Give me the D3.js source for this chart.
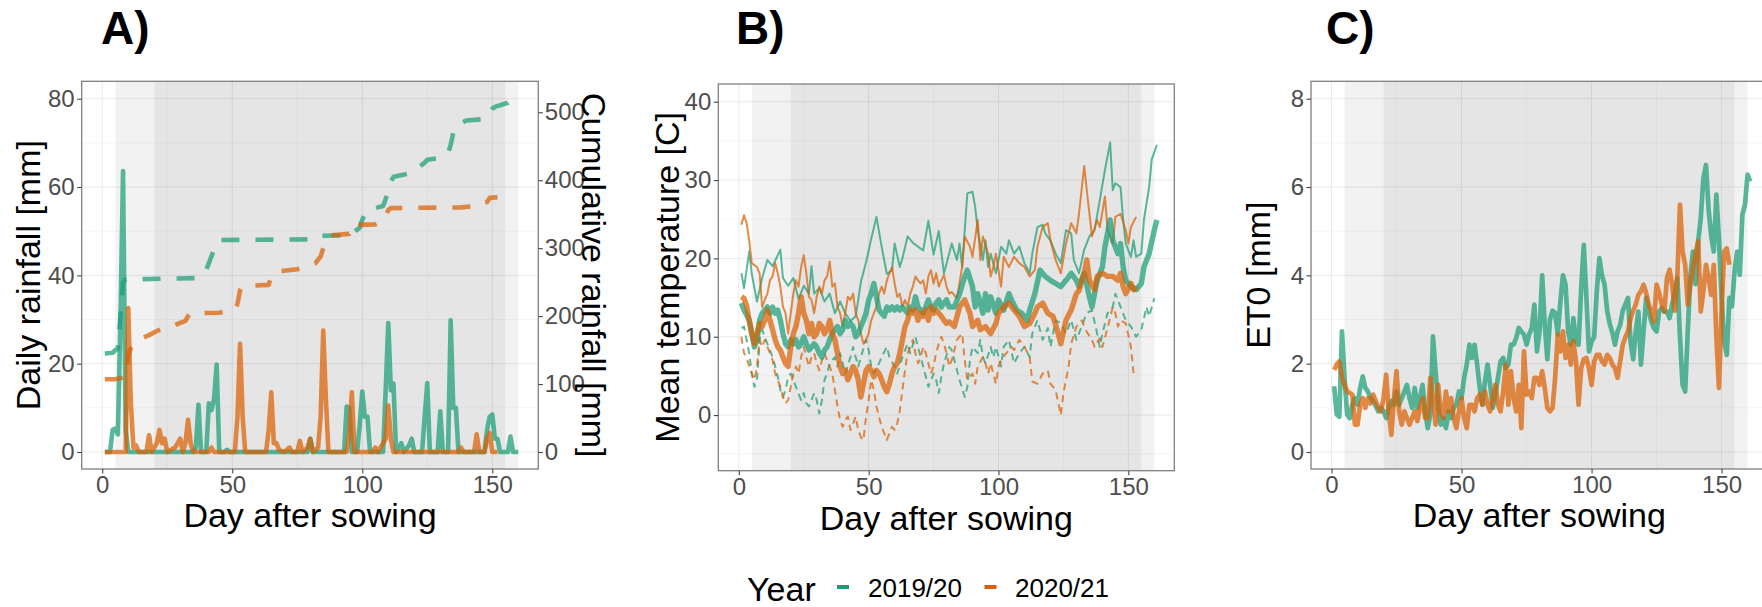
<!DOCTYPE html>
<html>
<head>
<meta charset="utf-8">
<script src="https://cdn.jsdelivr.net/npm/d3@7"></script>
<style>
  body { margin: 0; background: #fff; overflow: hidden; }
  text { font-family: "Liberation Sans", Arial, sans-serif; }
</style>
</head>
<body>
<div id="chart"></div>
<script>
// ---- data: [day after sowing, value] ----
const years = ["2019/20", "2020/21"];
const yearColors = ["#1B9E77", "#D95F02"];

// growth-stage shading (day ranges)
const stageBands = [[5, 160], [20, 155]];

// tick labels
const dayTicks = [0, 50, 100, 150];
const rainTicks = [0, 20, 40, 60, 80];
const cumTicks = [0, 100, 200, 300, 400, 500];
const tempTicks = [0, 10, 20, 30, 40];
const etoTicks = [0, 2, 4, 6, 8];

// A) daily rainfall [mm]
const rain1920 = [[1,0],[3,0],[4,5],[5,5.3],[6,4],[7,30],[8,63.6],[9,5],[10,0],[35,0],[36,1],[37,10.7],[38,0],[40,0],
  [41,11],[42,9.5],[43,12],[44,19.8],[45,0],[47,0],[48,0.5],[49,0],[79,0],[80,3],[81,0],[93,0],[94,10.3],[95,10],[96,0],
  [98,0],[99,6],[100,13.7],[101,8],[102,8],[103,0],[108,0],[109,14],[110,29.2],[111,14],[112,15.5],[113,0],[115,2],[116,0],
  [118,1.5],[119,3],[120,0],[123,0],[124,8],[125,15.6],[126,0],[129,0],[130,9.2],[131,0],[133,0],[134,29.8],[135,10],
  [136,10],[137,0],[147,0],[148,5],[149,8],[150,8.5],[151,3],[152,3],[153,0],[156,0],[157,3.5],[158,0],[160,0]];
const rain2021 = [[1,0],[9,0],[10,32.6],[11,11],[12,1],[13,1.5],[14,0],[17,0],[18,3.8],[19,0],[21,2],[22,5],[23,2],[24,3],
  [25,0],[28,1],[30,3],[31,0],[32,2],[33,7.3],[34,2],[35,0],[41,0],[42,1],[43,0],[51,0],[52,8],[53,24.5],[54,8],[55,0],
  [63,0],[64,5],[65,13.5],[66,2],[67,2],[68,0.5],[70,0],[72,1],[73,0],[75,0],[76,2.5],[77,0],[79,1],[80,3],[81,0],[83,1],
  [84,8],[85,27.5],[86,12],[87,0],[94,0],[95,4],[96,13.5],[97,0],[104,0],[105,1],[106,0],[108,2],[109,3],[110,10.5],
  [111,3],[112,0],[137,0],[138,1],[139,0],[143,0],[144,4],[145,0],[147,0],[148,3],[149,4.3],[150,0],[152,0]];

// A) cumulative rainfall [mm]
const cum1920 = [[1,145],[4,146],[5,150],[6,152],[7,200],[8,250],[9,254],[36,256],[37,262],[40,268],[41,278],[42,288],
  [43,298],[44,308],[45,312],[80,313],[81,316],[82,318],[95,319],[99,330],[100,342],[101,350],[102,356],[108,362],
  [109,372],[110,386],[111,398],[112,405],[118,410],[119,411],[124,426],[125,430],[130,433],[133,440],[134,452],
  [135,470],[136,480],[140,488],[147,490],[149,498],[150,505],[151,508],[156,514],[157,518]];
const cum2021 = [[1,107],[5,107],[9,110],[10,142],[11,153],[12,158],[14,165],[18,172],[21,178],[24,183],[28,187],
  [30,190],[32,193],[33,200],[34,204],[45,205],[51,210],[52,218],[53,238],[54,244],[64,246],[65,258],[66,262],[68,266],
  [75,269],[80,275],[82,278],[84,288],[85,300],[86,312],[88,319],[95,321],[96,334],[105,335],[108,340],[110,356],
  [111,359],[138,360],[143,362],[144,366],[148,368],[149,374],[152,375]];

// B) temperature [C]
const maxT1920 = [[1,18.1],[2,16.2],[4,20.9],[5,18],[7,14.5],[9,17.5],[11,19.8],[13,19],[16,21.1],[17,17.5],[19,16.5],
  [21,17.5],[23,14.8],[25,16.5],[27,15.5],[28,19],[29,15.5],[31,16.2],[33,14.5],[35,15.5],[37,13],[39,14.5],[41,13],
  [43,12],[45,12.6],[46,14.7],[47,17],[49,19.5],[51,22.5],[53,25.3],[55,21.5],[57,18],[59,18.5],[60,21.9],[62,18.9],
  [63,20],[65,22.8],[67,22],[69,21.5],[71,21],[73,24.8],[75,20.5],[77,23.5],[79,18.1],[81,20.6],[82,21.9],[84,19.8],
  [85,21.9],[86,18.9],[88,28.3],[90,28.5],[91,26.6],[92,23.6],[94,19.8],[95,22.3],[96,18.9],[97,20.6],[99,18.1],
  [101,21.5],[103,20.6],[104,22.3],[106,20.6],[108,21.5],[110,19.4],[112,18.1],[113,20.6],[115,24],[117,24.3],
  [118,23.2],[120,22.3],[122,20.6],[124,19.4],[126,23.6],[128,23.2],[129,19.8],[131,18.1],[133,21.1],[135,22.8],
  [137,23.6],[139,27.4],[141,31.3],[143,34.8],[144,28.7],[145,29.6],[147,29.1],[148,24.9],[149,21.9],[151,20.2],
  [152,22.3],[153,20.2],[155,20.6],[156,24.9],[158,29.1],[159,32.6],[161,34.5]];
const meanT1920 = [[1,14.3],[2,13.4],[3,12.8],[4,12.1],[5,10.4],[6,8.7],[7,9.6],[8,12.1],[9,13],[10,13.4],[11,13.8],
  [12,13],[13,13.8],[14,13],[15,13.4],[16,12.1],[17,10.4],[18,9.1],[19,8.7],[20,9.6],[21,9.1],[22,9.6],[23,8.7],[24,9.1],
  [25,10],[26,9.1],[27,8.3],[28,8.7],[29,9.1],[30,8.7],[31,7.9],[32,7.4],[33,8.3],[34,8.7],[35,9.6],[36,10.4],[37,10.9],
  [38,11.3],[39,10.4],[40,10.9],[41,12.1],[42,11.3],[43,11.7],[44,11.3],[45,10],[46,10.4],[47,11.3],[48,12.1],[49,13],
  [50,14.7],[51,15.5],[52,16.8],[53,15.1],[54,13.4],[55,13],[56,12.6],[57,13.8],[58,13.4],[59,13.8],[60,13.4],[61,13.8],
  [62,13.4],[63,13.8],[64,13.4],[65,13],[66,13.8],[67,13.4],[68,15.1],[69,13.8],[70,13.4],[71,13],[72,13.8],[73,14.7],
  [74,13.8],[75,13.4],[76,14.3],[77,14.7],[78,13.8],[79,14.3],[80,14.7],[81,13.8],[83,13.8],[85,15.5],[87,17.7],
  [88,18.5],[90,16.4],[91,13.8],[92,15.5],[94,13],[95,15.5],[96,13.4],[97,15.1],[99,13],[100,14.7],[102,13.4],
  [104,15.5],[105,14.7],[107,13.4],[109,13],[111,12.1],[112,13.4],[114,15.5],[116,18.5],[118,17.7],[120,17.2],
  [122,16.8],[124,16.4],[126,17.2],[128,18.1],[130,17.2],[131,16.4],[133,18.1],[135,15.1],[136,13.8],[138,17.2],
  [140,18.9],[141,21.5],[143,24.9],[144,22.3],[146,20.6],[147,21.9],[148,18.9],[149,17.2],[151,16.4],[153,16],
  [155,16.8],[156,18.9],[158,20.6],[160,23.6],[161,24.9]];
const minT1920 = [[1,11.1],[2,11.3],[3,9.6],[4,7.9],[5,5.3],[6,3.6],[7,4.5],[8,9.6],[9,10.9],[11,9.1],[13,7.4],[14,6.2],
  [15,4.9],[16,3.2],[17,2.3],[18,3.2],[19,4.9],[20,5.3],[22,3.6],[24,1.9],[25,2.8],[26,1.5],[27,1.1],[28,1.9],[29,2.8],
  [30,1.9],[31,0.2],[32,1.9],[33,4.5],[34,5.3],[35,6.6],[37,7.4],[38,6.2],[39,7.9],[41,5.3],[43,7.4],[44,8.7],[45,7.4],
  [46,6.2],[47,7.4],[49,9.6],[50,8.3],[51,6.2],[52,5.3],[54,6.6],[55,7.4],[57,8.7],[58,7.4],[60,6.2],[61,5.3],[63,7.4],
  [65,9.1],[66,7.9],[68,10],[70,7.4],[71,6.2],[72,4.9],[73,3.6],[75,5.3],[76,4.5],[77,2.8],[78,4.9],[79,6.6],[81,8.7],
  [82,8.3],[83,7],[85,4.5],[87,2.3],[88,3.6],[89,7],[90,8.7],[92,7.9],[93,9.6],[94,7.4],[95,6.6],[97,8.7],[98,7.4],
  [99,8.7],[101,6.2],[102,8.7],[104,9.6],[106,6.6],[108,7.9],[110,8.7],[112,7.4],[113,10.4],[115,12.1],[117,9.6],
  [119,11.1],[120,8.7],[122,12.1],[124,11.7],[126,10.4],[128,12.1],[130,9.6],[132,11.3],[134,13],[136,13.4],
  [138,10.4],[139,8.7],[140,10.4],[142,13],[144,13.8],[145,15.5],[147,13.8],[149,12.1],[151,11.3],[153,10],
  [155,10.9],[157,13.8],[158,12.6],[160,14.9]];
const maxT2021 = [[1,24.3],[2,25.5],[3,24.5],[4,22.3],[5,19.4],[7,18.9],[8,18.1],[9,13.8],[10,14.7],[11,15.5],[12,17.2],
  [13,17.7],[14,19.4],[15,18.1],[16,16.4],[17,13.8],[18,13],[19,10.4],[20,13],[21,15.5],[22,17.2],[23,16.4],[24,18.9],
  [25,20.4],[26,18.1],[27,15.1],[28,14.7],[29,13],[30,15.1],[31,16.4],[32,15.5],[33,17.2],[34,17.7],[35,19.6],
  [36,16.4],[37,16.8],[38,13.8],[39,13],[40,11.3],[41,13],[42,15.1],[43,14.7],[44,15.5],[45,13],[46,12.1],[47,10.4],
  [48,9.1],[49,9.6],[50,10.4],[51,12.1],[52,13],[53,13.8],[54,15.5],[55,16.4],[56,15.5],[57,17.2],[58,18.1],[59,18.9],
  [60,16.8],[61,15.1],[62,15.5],[63,13.8],[64,14.7],[65,13.8],[66,15.5],[67,16.4],[68,17.7],[69,17.2],[70,16.8],
  [71,17.2],[72,15.5],[73,17.7],[74,18.5],[75,16.8],[76,18.1],[77,16.4],[78,17.2],[79,17.9],[80,16.4],[81,15.5],
  [82,15.7],[84,14.9],[86,18.9],[87,22.8],[89,21.5],[90,20.2],[92,24.9],[93,19.8],[94,22.8],[96,20.6],[97,17.7],
  [98,18.9],[99,20.6],[101,16.4],[102,20.2],[104,18.9],[106,20.2],[108,19.4],[110,18.9],[112,17.7],[114,18.5],
  [115,21.5],[117,24],[119,24.5],[120,22.3],[122,19.8],[124,18.1],[126,21.9],[128,24.5],[130,23.2],[131,25.7],
  [133,31.8],[134,28.7],[136,22.8],[138,24.9],[139,24],[141,27.9],[142,23.6],[144,21.9],[145,25.3],[147,25.7],
  [149,23.6],[150,21.9],[151,24],[153,25.3]];
const meanT2021 = [[1,15.1],[2,14.9],[3,14],[4,12.1],[5,10.4],[6,9.1],[7,10.4],[8,11.7],[9,11.3],[10,12.1],[11,13.4],
  [12,12.1],[13,10.9],[14,9.6],[15,8.7],[16,8.3],[17,7.4],[18,6.6],[19,6.2],[20,8.7],[21,10.4],[22,11.3],[23,13],
  [24,15.1],[25,13],[26,12.1],[27,10.4],[28,11.7],[29,10],[30,10.4],[31,11.7],[32,11.3],[33,10.4],[34,10.9],[35,12.1],
  [36,10.4],[37,9.6],[38,7.9],[39,6.2],[40,5.3],[41,5.7],[42,4.5],[43,5.3],[44,6.2],[45,5.7],[46,4.5],[47,2.3],[48,4],
  [49,5.7],[50,6.2],[51,5.7],[52,4.9],[53,5.7],[54,5.3],[55,4.5],[56,3.6],[57,3],[58,4],[59,5.3],[60,6.2],[61,6.6],
  [62,7.9],[63,9.6],[64,11.3],[65,12.1],[66,13.4],[67,13],[68,13.4],[69,12.1],[70,13],[71,12.6],[72,13.4],[73,12.1],
  [74,13.8],[75,13],[76,13.4],[77,13],[78,12.6],[79,12.1],[80,11.7],[81,11.9],[83,11.3],[85,13.8],[87,14.7],[89,13],
  [90,11.3],[92,12.1],[93,10.9],[95,11.3],[97,10.4],[99,11.7],[100,13],[102,13.8],[104,14.3],[106,13.4],[108,12.6],
  [110,11.3],[112,11.7],[114,13],[115,13.8],[117,14.3],[119,13],[121,12.6],[123,10.4],[124,9.1],[126,12.1],[128,13.4],
  [130,15.5],[131,15.9],[133,18.1],[134,19.8],[135,17.2],[137,16],[138,17.7],[140,18.1],[142,17.7],[144,17.7],
  [146,17.2],[147,18.1],[148,16.4],[149,15.5],[151,16.8],[152,16],[153,16.4]];
const minT2021 = [[1,10],[2,7.9],[3,7.4],[4,6.2],[5,5.3],[6,4.5],[7,6.2],[8,9.6],[9,8.7],[10,9.6],[11,8.7],[12,7.9],
  [13,7],[14,5.3],[15,4.5],[16,3.6],[17,2.3],[18,1.5],[19,1.9],[20,3.6],[21,5.3],[22,6.2],[23,5.3],[24,7.4],[25,8.7],
  [26,7.4],[27,6.2],[28,7.4],[29,7.9],[30,6.6],[31,5.7],[32,7],[33,7.9],[34,7],[35,6.2],[36,5.3],[37,3.2],[38,1.1],
  [39,-0.6],[40,-1.5],[41,-0.6],[42,-0.2],[43,-1.9],[44,-1.1],[45,-0.2],[46,-1.9],[47,-2.8],[48,-3.2],[49,-0.2],
  [50,1.9],[51,4.5],[52,3.2],[53,1.1],[54,-0.2],[55,-1.5],[56,-2.3],[57,-3.2],[58,-2.3],[59,-1.5],[60,-1.9],[61,-1.1],
  [62,0.6],[63,3.2],[64,5.7],[65,7.9],[66,8.7],[67,9.6],[68,7.9],[69,6.6],[70,7.4],[71,8.7],[72,7.9],[73,6.6],[74,5.3],
  [75,6.2],[76,7.9],[77,9.1],[78,10],[79,9.1],[80,7.9],[81,6.2],[82,7],[84,9.6],[86,10.4],[87,7],[88,4.5],[90,5.3],
  [91,4],[92,6.2],[94,7.4],[95,6.6],[96,5.3],[97,6.6],[99,4],[100,6.2],[101,7],[103,7.9],[105,8.7],[106,8.3],[108,9.6],
  [110,8.7],[112,7.4],[113,4.3],[115,4],[117,5.3],[119,5.7],[120,4],[122,3.2],[124,0],[125,2.8],[126,4.5],[127,6.2],
  [128,9.1],[130,11.3],[132,12.1],[134,10.6],[136,9.6],[137,8.7],[139,9.8],[140,8.7],[142,11.1],[144,13.8],[145,13],
  [146,11.3],[147,12.1],[149,11.7],[151,8.7],[152,5.3]];

// C) reference evapotranspiration ET0 [mm]
const et1920 = [[1,1.49],[2,0.85],[3,0.8],[4,2.73],[5,1.68],[6,0.85],[7,0.77],[8,1.07],[9,1.22],[10,1.07],[11,1.45],
  [12,1.71],[13,1.45],[14,1.37],[15,1.22],[16,1.15],[17,1.04],[18,0.92],[19,1],[20,0.92],[21,0.77],[22,1],[23,1.15],
  [24,1.07],[25,1.37],[26,1.07],[27,1.22],[28,1.37],[29,1.52],[30,1.22],[31,1],[32,1.45],[33,1],[34,1.22],[35,1.52],
  [36,0.92],[37,0.54],[38,0.85],[39,2.62],[40,1.83],[41,1.07],[42,0.62],[43,0.77],[44,0.54],[45,0.92],[46,0.77],[47,1],
  [48,1.07],[49,1.37],[50,1.22],[51,1.68],[52,1.98],[53,2.43],[54,2.13],[55,2.43],[56,1.98],[57,1.45],[58,1.07],
  [59,1.6],[60,1.98],[61,1.52],[62,1],[63,1.3],[64,1.68],[65,2.05],[66,2.13],[67,1.9],[68,1.98],[69,2.43],[70,2.43],
  [71,2.58],[72,2.81],[73,2.73],[74,2.66],[75,2.43],[76,2.66],[77,2.81],[78,3.34],[79,2.28],[80,2.73],[81,4],[82,2.88],
  [83,2.1],[84,3],[85,3.2],[86,3.15],[87,2.66],[88,3.4],[89,4],[90,3.79],[91,2.73],[92,2.43],[93,3.03],[94,2.5],
  [95,2.43],[96,3.7],[97,4.69],[98,3.5],[99,2.28],[100,2.5],[101,2.6],[102,3.64],[103,4.39],[104,4],[105,3.79],[106,3.2],
  [107,2.9],[108,2.7],[109,2.43],[110,2.73],[111,2.88],[112,3.2],[113,3.34],[114,3.49],[115,2.5],[116,2.1],[117,2.73],
  [118,3.18],[119,1.98],[120,2.73],[121,3.49],[122,3.18],[123,2.95],[124,2.8],[125,2.73],[126,3.18],[127,3.26],
  [128,3.18],[129,3.18],[130,3.03],[131,3.34],[132,3.6],[133,3.94],[134,2.6],[135,1.52],[136,1.37],[137,2.73],[138,4],
  [139,4.54],[140,3.8],[141,4.77],[142,5.3],[143,6.2],[144,6.5],[145,5.5],[146,4.9],[147,4.54],[148,5.83],[149,4.8],
  [150,3.5],[151,2.5],[152,2.2],[153,3.49],[154,3.3],[155,4.09],[156,4.54],[157,4.01],[158,5.37],[159,5.6],[160,6.28],
  [161,6.13]];
const et2021 = [[1,1.86],[2,1.98],[3,2.05],[4,1.68],[5,1.52],[6,1.37],[7,1.34],[8,1.3],[9,0.62],[10,0.62],[11,1.07],
  [12,1.22],[13,1],[14,1.22],[15,1.1],[16,1.3],[17,1.15],[18,1],[19,0.92],[20,1.22],[21,1.75],[22,0.92],[23,0.39],
  [24,1.22],[25,1.83],[26,0.92],[27,0.62],[28,0.92],[29,0.77],[30,0.62],[31,0.77],[32,0.92],[33,0.7],[34,1],[35,1.22],
  [36,0.77],[37,0.77],[38,1.68],[39,1.22],[40,0.62],[41,1.52],[42,0.92],[43,0.77],[44,1.37],[45,0.92],[46,1.22],
  [47,0.77],[48,0.54],[49,0.92],[50,1.22],[51,0.77],[52,0.54],[53,1.07],[54,1.07],[55,0.92],[56,1.22],[57,1.3],
  [58,1.07],[59,1.37],[60,1.07],[61,0.92],[62,1.22],[63,1.52],[64,1.07],[65,0.92],[66,1.37],[67,1.98],[68,1.07],
  [69,1.83],[70,1.22],[71,0.92],[72,1.52],[73,0.54],[74,2.28],[75,1.3],[76,1.37],[77,1.22],[78,1.68],[79,1.68],
  [80,1.52],[81,1.83],[82,1.45],[83,1],[84,0.92],[85,1],[86,1.68],[87,2.66],[88,2.28],[89,2.73],[90,2.13],[91,2.43],
  [92,1.98],[93,2.51],[94,2.05],[95,1.07],[96,1.9],[97,2.1],[98,2.13],[99,1.9],[100,1.52],[101,2.05],[102,2.2],
  [103,2.2],[104,2.05],[105,1.98],[106,2.2],[107,2.13],[108,1.98],[109,1.9],[110,1.68],[111,2.05],[112,2.43],[113,2.6],
  [114,2.73],[115,3.03],[116,3.2],[117,3.34],[118,3.56],[119,3.64],[120,3.79],[121,3.6],[122,3.34],[123,3.18],
  [124,2.95],[125,3.79],[126,3.6],[127,3.34],[128,3.18],[129,3.94],[130,4.13],[131,3.79],[132,3.2],[133,4],[134,5.6],
  [135,4.54],[136,4.24],[137,3.34],[138,3.79],[139,4.16],[140,4.5],[141,4.77],[142,3.18],[143,3.64],[144,4.24],
  [145,3.94],[146,3.56],[147,4.24],[148,2.6],[149,1.45],[150,3.2],[151,4.54],[152,4.61],[153,4.24]];

// ---- layout ----
const W = 1762, H = 607;
const xDomain = [-7.9, 167.7];
const cumFactor = 6.5; // secondary axis: cumulative = daily scale * 6.5

const svg = d3.select("#chart")
  .append("svg")
    .attr("width", W)
    .attr("height", H);

function makePanel(p) {
  const g = svg.append("g")
    .attr("transform", "translate(" + p.left + "," + p.top + ")");
  const x = d3.scaleLinear().domain(xDomain).range([0, p.width]);
  const y = d3.scaleLinear().domain(p.yDomain).range([p.height, 0]);

  // grid (major + minor halfway lines)
  const minorOf = (ticks, dom) => {
    const step = ticks[1] - ticks[0], out = [];
    for (let v = ticks[0] - step / 2; v <= dom[1]; v += step) if (v >= dom[0]) out.push(v);
    return out;
  };
  const grid = g.append("g");
  minorOf(dayTicks, xDomain).forEach(v => grid.append("line")
    .attr("x1", x(v)).attr("x2", x(v)).attr("y1", 0).attr("y2", p.height)
    .attr("stroke", "#F0F0F0").attr("stroke-width", 0.6));
  minorOf(p.yTicks, p.yDomain).forEach(v => grid.append("line")
    .attr("y1", y(v)).attr("y2", y(v)).attr("x1", 0).attr("x2", p.width)
    .attr("stroke", "#F0F0F0").attr("stroke-width", 0.6));
  dayTicks.forEach(v => grid.append("line")
    .attr("x1", x(v)).attr("x2", x(v)).attr("y1", 0).attr("y2", p.height)
    .attr("stroke", "#EBEBEB").attr("stroke-width", 1));
  p.yTicks.forEach(v => grid.append("line")
    .attr("y1", y(v)).attr("y2", y(v)).attr("x1", 0).attr("x2", p.width)
    .attr("stroke", "#EBEBEB").attr("stroke-width", 1));

  // growth stage bands
  g.selectAll(".band").data(stageBands).enter().append("rect")
    .attr("x", d => x(d[0])).attr("width", d => x(d[1]) - x(d[0]))
    .attr("y", 0).attr("height", p.height)
    .attr("fill", "#000").attr("fill-opacity", 0.05);

  return {g: g, x: x, y: y, p: p};
}

function addLine(P, yScale, data, color, width, dash) {
  P.g.append("path")
    .datum(data)
    .attr("fill", "none")
    .attr("stroke", color)
    .attr("stroke-opacity", 0.72)
    .attr("stroke-width", width)
    .attr("stroke-linejoin", "round")
    .attr("stroke-dasharray", dash || null)
    .attr("d", d3.line()
      .x(d => P.x(d[0]))
      .y(d => yScale(d[1])));
}

function styleAxis(sel) {
  sel.attr("font-size", null).attr("font-family", null);
  sel.select(".domain").remove();
  sel.selectAll(".tick line").attr("stroke", "#444").attr("stroke-width", 1.1);
  sel.selectAll(".tick text").attr("fill", "#4D4D4D").style("font-size", "24px");
}

function finishPanel(P, yTitle, titleX) {
  const p = P.p;
  P.g.append("rect")
    .attr("width", p.width).attr("height", p.height)
    .attr("fill", "none").attr("stroke", "#7f7f7f").attr("stroke-width", 1.3);
  P.g.append("g")
    .attr("transform", "translate(0," + p.height + ")")
    .call(d3.axisBottom(P.x).tickValues(dayTicks).tickSize(4.5).tickPadding(2.5))
    .call(styleAxis);
  P.g.append("g")
    .call(d3.axisLeft(P.y).tickValues(p.yTicks).tickSize(4.5).tickPadding(2.5))
    .call(styleAxis);
  // axis titles
  svg.append("text")
    .attr("x", p.left + p.width / 2).attr("y", p.xTitleY)
    .attr("text-anchor", "middle").style("font-size", "34px")
    .text("Day after sowing");
  svg.append("text")
    .attr("transform", "translate(" + titleX + "," + (p.top + p.height / 2) + ") rotate(-90)")
    .attr("text-anchor", "middle").style("font-size", "34px")
    .text(yTitle);
}

// ---- A) rainfall ----
const A = makePanel({left: 81.7, top: 81.3, width: 456.6, height: 387.7,
  yDomain: [-3.85, 83.94], yTicks: rainTicks, xTitleY: 527});
const yCum = d3.scaleLinear()
  .domain([-3.85 * cumFactor, 83.94 * cumFactor]).range([A.p.height, 0]);
addLine(A, A.y, rain1920, yearColors[0], 4.6);
addLine(A, A.y, rain2021, yearColors[1], 4.6);
addLine(A, yCum, cum1920, yearColors[0], 4.6, "18,16");
addLine(A, yCum, cum2021, yearColors[1], 4.6, "18,16");
finishPanel(A, "Daily rainfall [mm]", 40);
A.g.append("g")
  .attr("transform", "translate(" + A.p.width + ",0)")
  .call(d3.axisRight(yCum).tickValues(cumTicks).tickSize(4.5).tickPadding(2))
  .call(styleAxis);
svg.append("text")
  .attr("transform", "translate(582," + (A.p.top + A.p.height / 2) + ") rotate(90)")
  .attr("text-anchor", "middle").style("font-size", "34px")
  .text("Cumulative rainfall [mm]");

// ---- B) temperature ----
const B = makePanel({left: 718.3, top: 84, width: 456, height: 386.7,
  yDomain: [-7.1, 42.26], yTicks: tempTicks, xTitleY: 530});
addLine(B, B.y, minT1920, yearColors[0], 2, "7,5");
addLine(B, B.y, minT2021, yearColors[1], 2, "7,5");
addLine(B, B.y, maxT1920, yearColors[0], 2);
addLine(B, B.y, maxT2021, yearColors[1], 2);
addLine(B, B.y, meanT1920, yearColors[0], 5.4);
addLine(B, B.y, meanT2021, yearColors[1], 5.4);
finishPanel(B, "Mean temperature [C]", 678.5);

// ---- C) ET0 ----
const C = makePanel({left: 1311, top: 81.3, width: 456.6, height: 387.7,
  yDomain: [-0.385, 8.394], yTicks: etoTicks, xTitleY: 527});
addLine(C, C.y, et1920, yearColors[0], 4.7);
addLine(C, C.y, et2021, yearColors[1], 4.7);
finishPanel(C, "ET0 [mm]", 1270);

// ---- panel letters ----
[["A)", 101], ["B)", 736], ["C)", 1326]].forEach(d => {
  svg.append("text").attr("x", d[1]).attr("y", 43.5)
    .style("font-size", "46px").style("font-weight", "bold").text(d[0]);
});

// ---- legend ----
const legend = svg.append("g");
legend.append("text").attr("x", 747).attr("y", 601)
  .style("font-size", "34px").text("Year");
const keyX = [837, 984.5], labX = [868, 1015];
years.forEach((yr, i) => {
  legend.append("line")
    .attr("x1", keyX[i]).attr("x2", keyX[i] + 12).attr("y1", 587).attr("y2", 587)
    .attr("stroke", yearColors[i]).attr("stroke-width", 4);
  legend.append("text").attr("x", labX[i]).attr("y", 597)
    .style("font-size", "26px").text(yr);
});
</script>
</body>
</html>
